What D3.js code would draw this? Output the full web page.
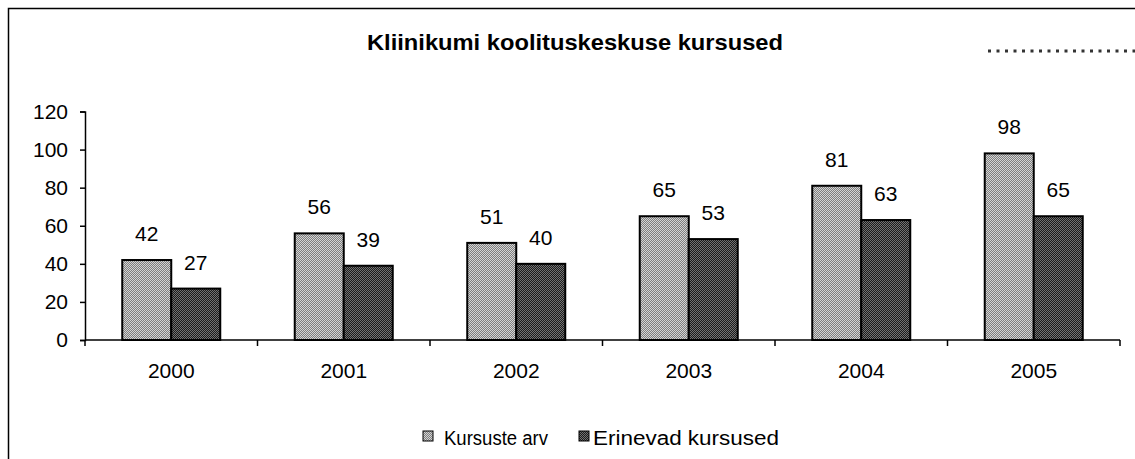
<!DOCTYPE html>
<html>
<head>
<meta charset="utf-8">
<script src="https://cdn.jsdelivr.net/npm/d3@7/dist/d3.min.js"></script>
<style>
  html, body { margin: 0; padding: 0; background: #fff; }
  svg { display: block; font-family: "Liberation Sans", Arial, sans-serif; }
</style>
</head>
<body>
<svg id="chart" width="1135" height="459"></svg>
<script>
// Course counts per year
const years = ["2000", "2001", "2002", "2003", "2004", "2005"];
const seriesNames = ["Kursuste arv", "Erinevad kursused"];
const kursusteArv = [42, 56, 51, 65, 81, 98];
const erinevadKursused = [27, 39, 40, 53, 63, 65];
const yTicks = [0, 20, 40, 60, 80, 100, 120];
const title = "Kliinikumi koolituskeskuse kursused";

const seriesValues = [kursusteArv, erinevadKursused];

const svg = d3.select("#chart");

// Stippled fills for the two series
const defs = svg.append("defs");
function checker(id, a, b) {
  const p = defs.append("pattern")
    .attr("id", id).attr("patternUnits", "userSpaceOnUse")
    .attr("width", 2).attr("height", 2);
  p.append("rect").attr("width", 2).attr("height", 2).attr("fill", b);
  p.append("rect").attr("width", 1).attr("height", 1).attr("fill", a);
  p.append("rect").attr("x", 1).attr("y", 1).attr("width", 1).attr("height", 1).attr("fill", a);
}
checker("fillLight", "#d4d4d4", "#7e7e7e");
checker("fillDark", "#727272", "#1c1c1c");
const fills = ["url(#fillLight)", "url(#fillDark)"];

// Chart frame
svg.append("rect")
  .attr("x", 8.5).attr("y", 8.5).attr("width", 1140).attr("height", 460)
  .attr("fill", "none").attr("stroke", "#000").attr("stroke-width", 1.5);

// Title
svg.append("text")
  .attr("x", 575).attr("y", 50)
  .attr("text-anchor", "middle")
  .attr("font-size", 22).attr("font-weight", "bold")
  .attr("textLength", 416).attr("lengthAdjust", "spacingAndGlyphs")
  .text(title);

// Dotted decoration at the top right
svg.append("line")
  .attr("x1", 988).attr("x2", 1135).attr("y1", 51).attr("y2", 51)
  .attr("stroke", "#333").attr("stroke-width", 3)
  .attr("stroke-dasharray", "3,5.5");

// Scales
const plotLeft = 85, plotRight = 1120, plotBottom = 340, plotTop = 111.5;
const x = d3.scaleBand().domain(years).range([plotLeft, plotRight]).padding(0);
const xs = d3.scaleBand().domain(seriesNames).range([0, x.bandwidth()])
  .paddingInner(0).paddingOuter(0.76);
const y = d3.scaleLinear().domain([0, 120]).range([plotBottom, plotTop]);

const numFont = 21;

// Y axis
const yAxis = svg.append("g")
  .attr("transform", `translate(${plotLeft},0)`)
  .call(d3.axisLeft(y).tickValues(yTicks).tickSize(5).tickPadding(12));
yAxis.select(".domain").attr("stroke", "#000").attr("stroke-width", 1.5);
yAxis.selectAll(".tick line").attr("stroke", "#000").attr("stroke-width", 1.5);
yAxis.selectAll(".tick text")
  .attr("font-size", numFont).attr("font-family", "Liberation Sans, Arial, sans-serif")
  .attr("fill", "#000");

// Bars
years.forEach((yr, i) => {
  seriesNames.forEach((s, j) => {
    const v = seriesValues[j][i];
    svg.append("rect")
      .attr("x", x(yr) + xs(s))
      .attr("y", y(v))
      .attr("width", xs.bandwidth())
      .attr("height", y(0) - y(v))
      .attr("fill", fills[j])
      .attr("stroke", "#000").attr("stroke-width", 2);
    svg.append("text")
      .attr("x", x(yr) + xs(s) + xs.bandwidth() / 2)
      .attr("y", y(v) - 19)
      .attr("text-anchor", "middle")
      .attr("font-size", numFont)
      .text(v);
  });
});

// X axis with ticks between categories
const xAxisG = svg.append("g").attr("transform", `translate(0,${plotBottom})`);
xAxisG.append("line")
  .attr("x1", plotLeft).attr("x2", plotRight)
  .attr("stroke", "#000").attr("stroke-width", 1.5);
const boundaries = years.map(d => x(d)).concat([plotRight]);
xAxisG.selectAll("line.tk").data(boundaries).join("line")
  .attr("class", "tk")
  .attr("x1", d => d).attr("x2", d => d)
  .attr("y1", 0).attr("y2", 6)
  .attr("stroke", "#000").attr("stroke-width", 1.5);
xAxisG.selectAll("text").data(years).join("text")
  .attr("x", d => x(d) + x.bandwidth() / 2)
  .attr("y", 38)
  .attr("text-anchor", "middle")
  .attr("font-size", numFont)
  .text(d => d);

// Legend
const legend = svg.append("g");
const legendItems = [
  { name: seriesNames[0], sx: 423, tx: 444, len: 104 },
  { name: seriesNames[1], sx: 579, tx: 593, len: 186 }
];
legendItems.forEach((it, j) => {
  legend.append("rect")
    .attr("x", it.sx).attr("y", 431).attr("width", 10).attr("height", 10)
    .attr("fill", fills[j]).attr("stroke", "#000").attr("stroke-width", 1);
  legend.append("text")
    .attr("x", it.tx).attr("y", 445)
    .attr("font-size", 20)
    .attr("textLength", it.len).attr("lengthAdjust", "spacingAndGlyphs")
    .text(it.name);
});
</script>
</body>
</html>
